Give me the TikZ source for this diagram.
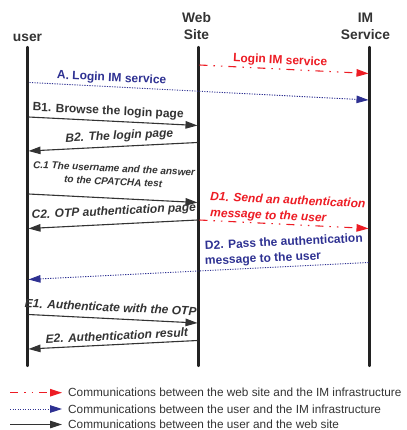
\documentclass[tikz,border=0pt]{standalone}
\usepackage{fontspec}
\setmainfont{Liberation Sans}
\usetikzlibrary{arrows.meta}

\definecolor{ink}{HTML}{333333}
\definecolor{lifeink}{HTML}{222222}
\definecolor{imred}{HTML}{ED1C24}
\definecolor{imblue}{HTML}{2E3192}

\tikzset{
  head/.style={font=\fontsize{13.8}{17.3}\selectfont\bfseries, text=ink, inner sep=0pt, align=center},
  life/.style={draw=lifeink, line width=2.2pt, line cap=round},
  msg/.style={draw=ink, line width=1.1pt, -{Triangle[length=12pt,width=7.5pt]}},
  webim/.style={draw=imred, line width=1.1pt,
    dash pattern=on 8pt off 6pt on 1.5pt off 6pt on 1.5pt off 6pt,
    -{Triangle[length=12pt,width=7.5pt]}},
  userim/.style={draw=imblue, line width=0.9pt, dash pattern=on 1.2pt off 1.3pt,
    -{Triangle[length=12pt,width=7.5pt]}},
  lbl/.style={font=\fontsize{12}{14}\selectfont\bfseries, text=ink, inner sep=0pt, anchor=base},
  lbli/.style={lbl, font=\fontsize{12}{14}\selectfont\bfseries\itshape},
  small/.style={lbl, font=\fontsize{10}{12}\selectfont\bfseries\itshape},
  legtext/.style={font=\fontsize{11.8}{14}\selectfont, text=ink, inner sep=0pt, anchor=base west},
}

\begin{document}
\begin{tikzpicture}[x=1pt, y=-1pt]
\useasboundingbox (0,0) rectangle (406,430);

% participants
\node[head, anchor=base] (user) at (27.5,41.5) {user};
\node[head] (web) at (196.5,26.4) {Web\\Site};
\node[head] (im) at (365.5,26.4) {IM\\Service};

% lifelines
\coordinate (uT) at (27.5,47);  \coordinate (uB) at (27.5,366);
\coordinate (wT) at (198.5,47); \coordinate (wB) at (198.5,366);
\coordinate (iT) at (369.5,47); \coordinate (iB) at (369.5,366);
\draw[life] (uT) -- (uB);
\draw[life] (wT) -- (wB);
\draw[life] (iT) -- (iB);

% message end points on the lifelines
\coordinate (l0w) at (199.5,65);   \coordinate (l0i) at (368.5,73.5);
\coordinate (au)  at (29.5,82.5);  \coordinate (ai)  at (368.5,100);
\coordinate (b1u) at (28.5,117);   \coordinate (b1w) at (197.5,125.5);
\coordinate (b2w) at (197.5,142.5);\coordinate (b2u) at (28.5,151);
\coordinate (c1u) at (28.5,194);   \coordinate (c1w) at (197.5,202.5);
\coordinate (c2w) at (197.5,220);  \coordinate (c2u) at (28.5,228.5);
\coordinate (d1w) at (199.5,220);  \coordinate (d1i) at (368.5,228.5);
\coordinate (d2i) at (368.5,262.5);\coordinate (d2u) at (28.5,279.5);
\coordinate (e1u) at (28.5,314.5); \coordinate (e1w) at (197.5,323);
\coordinate (e2w) at (197.5,340.5);\coordinate (e2u) at (28.5,349);

% messages
\draw[webim]  (l0w) -- (l0i);
\draw[userim] (au)  -- (ai);
\draw[msg]    (b1u) -- (b1w);
\draw[msg]    (b2w) -- (b2u);
\draw[msg]    (c1u) -- (c1w);
\draw[msg]    (c2w) -- (c2u);
\draw[webim]  (d1w) -- (d1i);
\draw[userim] (d2i) -- (d2u);
\draw[msg]    (e1u) -- (e1w);
\draw[msg]    (e2w) -- (e2u);

% message labels
\node[lbl, text=imred, rotate=-2.7] (l0t) at (280,64) {Login IM service};
\node[lbl, text=imblue, rotate=-2.7] (at) at (111.5,81.5) {A. Login IM service};
\node[lbl, rotate=-2.7] (b1t) at (108,114.5) {B1. Browse the login page};
\node[lbli, rotate=2.7] (b2t) at (119.5,139.5) {B2. The login page};
\node[small, rotate=-2.8] (c1ta) at (114,172) {C.1 The username and the answer};
\node[small, rotate=-2.8] (c1tb) at (113,185) {to the CPATCHA test};
\node[lbli, rotate=2.7] (c2t) at (114,215) {C2. OTP authentication page};
\node[lbli, text=imred, anchor=base west, rotate=-2.7] (d1ta) at (210,200.5) {D1. Send an authentication};
\node[lbli, text=imred, anchor=base west, rotate=-2.7] (d1tb) at (210,216.5) {message to the user};
\node[lbl, text=imblue, anchor=base west, rotate=2.7] (d2ta) at (205,249.5) {D2. Pass the authentication};
\node[lbl, text=imblue, anchor=base west, rotate=2.7] (d2tb) at (205,265) {message to the user};
\node[lbli, rotate=-2.7] (e1t) at (110.5,311.5) {E1. Authenticate with the OTP};
\node[lbli, rotate=2.7] (e2t) at (117,340) {E2. Authentication result};

% legend
\coordinate (k1a) at (10,392.7); \coordinate (k1b) at (62,392.7);
\coordinate (k2a) at (10,409);   \coordinate (k2b) at (62,409);
\coordinate (k3a) at (10,424.5); \coordinate (k3b) at (62,424.5);
\draw[webim]  (k1a) -- (k1b);
\draw[userim] (k2a) -- (k2b);
\draw[msg]    (k3a) -- (k3b);
\node[legtext] (k1t) at (68,396.7) {Communications between the web site and the IM infrastructure};
\node[legtext] (k2t) at (68,413)   {Communications between the user and the IM infrastructure};
\node[legtext] (k3t) at (68,428.3) {Communications between the user and the web site};
\end{tikzpicture}
\end{document}
